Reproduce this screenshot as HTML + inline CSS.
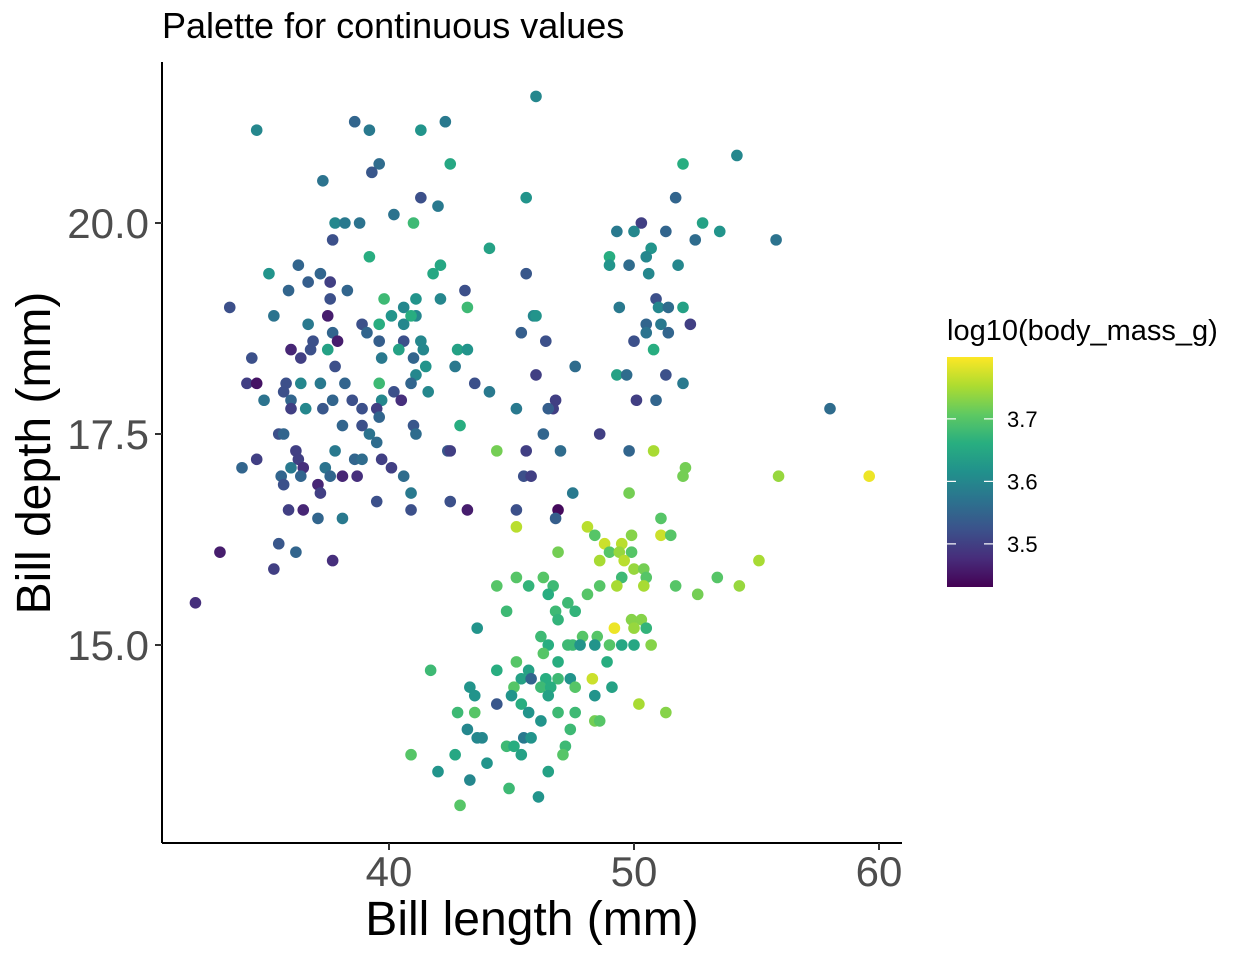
<!DOCTYPE html>
<html><head><meta charset="utf-8">
<style>
html,body{margin:0;padding:0;background:#fff;}
svg{display:block;font-family:"Liberation Sans",sans-serif;}
</style></head>
<body>
<svg id="chart" width="1248" height="960" viewBox="0 0 1248 960">
<defs>
<linearGradient id="vir" x1="0" y1="1" x2="0" y2="0">
<stop offset="0" stop-color="#440154"/><stop offset="0.125" stop-color="#472d7b"/>
<stop offset="0.25" stop-color="#3b528b"/><stop offset="0.375" stop-color="#2c728e"/>
<stop offset="0.5" stop-color="#21918c"/><stop offset="0.625" stop-color="#28ae80"/>
<stop offset="0.75" stop-color="#5ec962"/><stop offset="0.875" stop-color="#addc30"/>
<stop offset="1" stop-color="#fde725"/>
</linearGradient>
</defs>
<text x="162" y="38" font-size="36" fill="#000">Palette for continuous values</text>
<g id="points"></g>
<line x1="162" y1="62" x2="162" y2="843" stroke="#000" stroke-width="2"/>
<line x1="162" y1="843" x2="902" y2="843" stroke="#000" stroke-width="2"/>
<g id="xticks"></g>
<g id="yticks"></g>
<text x="532" y="935" font-size="48" text-anchor="middle" fill="#000">Bill length (mm)</text>
<text transform="translate(50,453) rotate(-90)" font-size="48" text-anchor="middle" fill="#000">Bill depth (mm)</text>
<g>
<text x="947" y="340" font-size="29" fill="#000">log10(body_mass_g)</text>
<rect x="947" y="357" width="46" height="230" fill="url(#vir)"/>
<g id="legticks"></g>
</g>
</svg>
<script>
const xTicks = [40, 50, 60];
const yTicks = [15.0, 17.5, 20.0];
const legendTicks = [3.5, 3.6, 3.7];
const billLength = [34.6,38.6,39.2,41.3,42.3,39.6,39.3,42.5,37.3,41.3,42.0,40.2,41.0,37.8,38.2,38.8,37.7,44.1,39.2,36.3,35.1,37.2,37.6,36.7,35.9,38.3,42.1,41.8,42.1,43.1,39.8,37.6,41.1,33.5,40.6,43.2,35.3,37.5,36.7,38.9,39.6,40.6,41.1,40.1,40.9,37.7,39.1,36.9,37.9,39.6,40.6,41.3,36.0,36.8,37.5,40.4,41.4,42.8,43.2,34.4,36.4,39.7,41.0,41.5,42.7,37.8,41.1,34.2,34.6,35.8,36.4,37.2,38.2,39.6,40.9,43.5,35.7,40.2,41.6,44.1,34.9,36.0,37.7,38.5,39.7,40.5,36.0,36.6,37.3,38.9,39.5,39.6,41.0,38.1,38.9,39.2,35.5,35.7,41.1,39.5,42.9,37.8,36.2,42.4,42.5,34.6,38.6,38.9,39.7,36.3,34.0,36.0,36.5,37.4,40.1,35.6,36.4,37.6,38.1,38.7,40.6,37.1,35.7,37.2,40.9,39.5,42.5,35.9,36.5,37.1,38.1,40.9,43.2,35.5,33.1,36.2,37.7,35.3,32.1,
46.0,54.2,52.0,45.6,51.7,50.3,49.3,50.0,51.3,52.8,53.5,55.8,52.5,50.7,49.0,50.5,49.8,51.8,45.6,49.0,50.6,50.9,51.0,49.4,51.4,52.0,45.9,46.0,50.5,51.1,52.3,45.4,50.5,50.0,46.4,51.4,50.8,47.6,46.0,49.3,49.7,51.3,52.0,50.1,50.9,46.8,46.7,46.5,45.2,58.0,46.3,48.6,49.8,45.6,47.0,44.4,50.8,52.1,52.0,55.9,59.6,45.5,45.8,47.5,49.8,45.2,46.9,51.1,46.8,45.2,48.1,48.4,49.9,51.1,51.5,48.8,49.5,49.0,49.4,49.9,46.9,48.6,49.6,55.1,50.0,50.4,49.5,45.2,46.3,50.5,53.4,44.4,45.7,46.7,48.6,49.3,50.4,51.7,54.3,48.1,46.5,52.6,47.3,46.8,44.8,47.6,46.9,49.9,50.3,49.2,43.6,50.0,50.5,47.9,48.5,46.2,47.3,47.5,47.8,48.4,49.0,49.5,50.0,50.7,46.5,46.3,48.9,45.2,46.9,41.7,44.4,45.7,48.3,45.4,45.8,46.4,46.9,47.4,43.3,45.1,46.2,46.6,47.6,49.1,43.5,45.0,46.5,48.4,44.4,45.4,50.2,46.9,42.8,43.5,45.7,47.6,48.4,48.6,51.3,46.2,43.2,47.4,43.6,43.8,45.5,45.8,44.8,45.1,47.2,40.9,42.7,45.4,47.1,44.0,42.0,46.5,43.3,44.9,46.1,42.9];
const billDepth = [21.1,21.2,21.1,21.1,21.2,20.7,20.6,20.7,20.5,20.3,20.2,20.1,20.0,20.0,20.0,20.0,19.8,19.7,19.6,19.5,19.4,19.4,19.3,19.3,19.2,19.2,19.5,19.4,19.1,19.2,19.1,19.1,19.1,19.0,19.0,19.0,18.9,18.9,18.8,18.8,18.8,18.8,18.9,18.9,18.9,18.7,18.7,18.6,18.6,18.6,18.6,18.6,18.5,18.5,18.5,18.5,18.5,18.5,18.5,18.4,18.4,18.4,18.4,18.3,18.3,18.3,18.2,18.1,18.1,18.1,18.1,18.1,18.1,18.1,18.1,18.1,18.0,18.0,18.0,18.0,17.9,17.9,17.9,17.9,17.9,17.9,17.8,17.8,17.8,17.8,17.8,17.7,17.6,17.6,17.6,17.5,17.5,17.5,17.5,17.4,17.6,17.3,17.3,17.3,17.3,17.2,17.2,17.2,17.2,17.2,17.1,17.1,17.1,17.1,17.1,17.0,17.0,17.0,17.0,17.0,17.0,16.9,16.9,16.8,16.8,16.7,16.7,16.6,16.6,16.5,16.5,16.6,16.6,16.2,16.1,16.1,16.0,15.9,15.5,
21.5,20.8,20.7,20.3,20.3,20.0,19.9,19.9,19.9,20.0,19.9,19.8,19.8,19.7,19.6,19.6,19.5,19.5,19.4,19.5,19.4,19.1,19.0,19.0,19.0,19.0,18.9,18.9,18.8,18.8,18.8,18.7,18.7,18.6,18.6,18.7,18.5,18.3,18.2,18.2,18.2,18.2,18.1,17.9,17.9,17.9,17.8,17.8,17.8,17.8,17.5,17.5,17.3,17.3,17.3,17.3,17.3,17.1,17.0,17.0,17.0,17.0,17.0,16.8,16.8,16.6,16.6,16.5,16.5,16.4,16.4,16.3,16.3,16.3,16.3,16.2,16.2,16.1,16.1,16.1,16.1,16.0,16.0,16.0,15.9,15.9,15.8,15.8,15.8,15.8,15.8,15.7,15.7,15.7,15.7,15.7,15.7,15.7,15.7,15.6,15.6,15.6,15.5,15.4,15.4,15.4,15.3,15.3,15.3,15.2,15.2,15.2,15.2,15.1,15.1,15.1,15.0,15.0,15.0,15.0,15.0,15.0,15.0,15.0,15.0,14.9,14.8,14.8,14.8,14.7,14.7,14.7,14.6,14.6,14.6,14.6,14.6,14.6,14.5,14.5,14.5,14.5,14.5,14.5,14.4,14.4,14.4,14.4,14.3,14.3,14.3,14.2,14.2,14.2,14.2,14.2,14.1,14.1,14.2,14.1,14.0,14.0,13.9,13.9,13.9,13.9,13.8,13.8,13.8,13.7,13.7,13.7,13.7,13.6,13.5,13.5,13.4,13.3,13.2,13.1];
const logMass = [3.6,3.55,3.58,3.62,3.58,3.56,3.53,3.65,3.57,3.52,3.58,3.57,3.68,3.6,3.58,3.57,3.52,3.64,3.66,3.55,3.62,3.55,3.5,3.54,3.55,3.55,3.65,3.65,3.6,3.52,3.68,3.52,3.62,3.52,3.6,3.68,3.57,3.46,3.58,3.52,3.66,3.6,3.6,3.62,3.66,3.55,3.55,3.52,3.46,3.54,3.52,3.6,3.47,3.52,3.64,3.64,3.6,3.64,3.62,3.52,3.5,3.58,3.55,3.62,3.58,3.52,3.6,3.5,3.45,3.52,3.6,3.58,3.55,3.68,3.55,3.52,3.52,3.52,3.6,3.58,3.57,3.55,3.55,3.52,3.6,3.48,3.5,3.6,3.53,3.52,3.5,3.55,3.53,3.55,3.52,3.57,3.52,3.55,3.56,3.56,3.66,3.58,3.5,3.53,3.5,3.5,3.55,3.56,3.5,3.5,3.55,3.58,3.48,3.57,3.5,3.55,3.55,3.55,3.47,3.48,3.56,3.47,3.52,3.5,3.58,3.52,3.52,3.5,3.47,3.55,3.58,3.52,3.46,3.53,3.46,3.55,3.48,3.5,3.48,
3.6,3.6,3.66,3.62,3.55,3.5,3.58,3.6,3.55,3.64,3.62,3.57,3.56,3.62,3.66,3.6,3.56,3.6,3.53,3.62,3.6,3.52,3.6,3.58,3.56,3.64,3.6,3.62,3.55,3.58,3.5,3.54,3.57,3.52,3.52,3.55,3.66,3.56,3.5,3.64,3.56,3.52,3.58,3.5,3.55,3.5,3.5,3.54,3.58,3.56,3.55,3.5,3.55,3.5,3.56,3.72,3.75,3.72,3.72,3.74,3.79,3.52,3.5,3.58,3.72,3.52,3.44,3.7,3.54,3.76,3.76,3.7,3.73,3.77,3.7,3.77,3.76,3.7,3.74,3.7,3.72,3.75,3.76,3.75,3.74,3.72,3.68,3.7,3.7,3.7,3.7,3.7,3.67,3.68,3.7,3.75,3.75,3.7,3.74,3.7,3.66,3.72,3.68,3.68,3.68,3.67,3.67,3.73,3.73,3.79,3.62,3.74,3.67,3.7,3.7,3.68,3.68,3.68,3.62,3.62,3.7,3.65,3.65,3.73,3.66,3.7,3.66,3.7,3.66,3.68,3.66,3.64,3.77,3.64,3.55,3.66,3.68,3.62,3.62,3.7,3.68,3.66,3.7,3.64,3.62,3.62,3.64,3.62,3.53,3.66,3.75,3.68,3.68,3.7,3.62,3.68,3.72,3.7,3.73,3.62,3.6,3.68,3.6,3.6,3.58,3.62,3.68,3.66,3.68,3.7,3.65,3.64,3.7,3.62,3.62,3.64,3.6,3.68,3.62,3.7];

const NS = "http://www.w3.org/2000/svg";
const xScale = v => 389 + (v - 40) * 24.5;
const yScale = v => 223 - (v - 20) * 84.4;
const cMin = 3.431, cMax = 3.799;
const legScale = v => 587 - (v - cMin) / (cMax - cMin) * 230;
const vir = [[68,1,84],[71,45,123],[59,82,139],[44,114,142],[33,145,140],[40,174,128],[94,201,98],[173,220,48],[253,231,37]];
function color(v){
  let t = Math.max(0, Math.min(1, (v - cMin) / (cMax - cMin))) * 8;
  let i = Math.min(7, Math.floor(t)), f = t - i;
  const a = vir[i], b = vir[i+1];
  return "rgb(" + a.map((c,k)=>Math.round(c + (b[k]-c)*f)).join(",") + ")";
}
const pts = document.getElementById("points");
for (let i = 0; i < billLength.length; i++) {
  const c = document.createElementNS(NS, "circle");
  c.setAttribute("cx", xScale(billLength[i]));
  c.setAttribute("cy", yScale(billDepth[i]));
  c.setAttribute("r", 5.8);
  c.setAttribute("fill", color(logMass[i]));
  
  
  pts.appendChild(c);
}
const xt = document.getElementById("xticks");
xTicks.forEach(v => {
  const l = document.createElementNS(NS, "line");
  l.setAttribute("x1", xScale(v)); l.setAttribute("x2", xScale(v));
  l.setAttribute("y1", 843); l.setAttribute("y2", 850);
  l.setAttribute("stroke", "#333"); l.setAttribute("stroke-width", 2);
  
  
  xt.appendChild(l);
  const t = document.createElementNS(NS, "text");
  t.setAttribute("x", xScale(v)); t.setAttribute("y", 886);
  t.setAttribute("text-anchor", "middle"); t.setAttribute("font-size", 42); t.setAttribute("fill", "#4d4d4d");
  t.textContent = v;
  
  
  xt.appendChild(t);
});
const yt = document.getElementById("yticks");
yTicks.forEach(v => {
  const l = document.createElementNS(NS, "line");
  l.setAttribute("x1", 155); l.setAttribute("x2", 162);
  l.setAttribute("y1", yScale(v)); l.setAttribute("y2", yScale(v));
  l.setAttribute("stroke", "#333"); l.setAttribute("stroke-width", 2);
  
  
  yt.appendChild(l);
  const t = document.createElementNS(NS, "text");
  t.setAttribute("x", 149); t.setAttribute("y", yScale(v) + 15);
  t.setAttribute("text-anchor", "end"); t.setAttribute("font-size", 42); t.setAttribute("fill", "#4d4d4d");
  t.textContent = v.toFixed(1);
  
  
  yt.appendChild(t);
});
const lt = document.getElementById("legticks");
legendTicks.forEach(v => {
  const y = legScale(v);
  [[947,956],[984,993]].forEach(([a,b]) => {
    const l = document.createElementNS(NS, "line");
    l.setAttribute("x1", a); l.setAttribute("x2", b);
    l.setAttribute("y1", y); l.setAttribute("y2", y);
    l.setAttribute("stroke", "#fff"); l.setAttribute("stroke-width", 1.2);
    
    
    lt.appendChild(l);
  });
  const t = document.createElementNS(NS, "text");
  t.setAttribute("x", 1007); t.setAttribute("y", y + 8);
  t.setAttribute("font-size", 22); t.setAttribute("fill", "#000");
  t.textContent = v.toFixed(1);
  
  
  lt.appendChild(t);
});
</script>
</body></html>
